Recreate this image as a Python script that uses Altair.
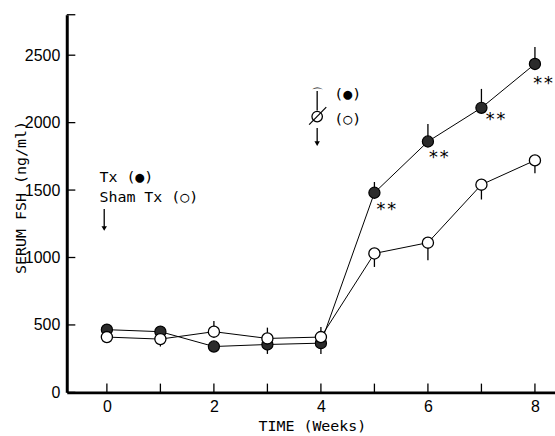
import altair as alt
import pandas as pd

# ---- data ----
weeks = [0, 1, 2, 3, 4, 5, 6, 7, 8]
tx_fsh = [465, 450, 340, 355, 365, 1480, 1860, 2110, 2435]
sham_fsh = [410, 395, 450, 400, 410, 1030, 1110, 1540, 1720]
# signed error-bar lengths (positive = drawn upward, negative = downward)
tx_err = [40, 35, 0, -70, -80, 80, 130, 140, 125]
sham_err = [-35, -55, 80, 80, 75, -100, -130, -110, -95]

x_tick_values = [0, 1, 2, 3, 4, 5, 6, 7, 8]
y_tick_values = [0, 500, 1000, 1500, 2000, 2500, 2800]

star_x = [5.02, 6.0, 7.06, 7.95]
star_y = [1385, 1770, 2050, 2315]

label_text = ["Tx (●)", "Sham Tx (○)", "(●)", "(○)"]
label_x = [-0.14, -0.14, 4.25, 4.25]
label_y = [1600, 1450, 2210, 2030]

XDOM = [-0.75, 8.375]
YDOM = [0, 2800]
MONO = "DejaVu Sans Mono"
SANS = "Liberation Sans"

pts = pd.DataFrame({
    "week": weeks * 2,
    "fsh": tx_fsh + sham_fsh,
    "err_end": [v + e for v, e in zip(tx_fsh, tx_err)] + [v + e for v, e in zip(sham_fsh, sham_err)],
    "group": ["Tx"] * len(weeks) + ["Sham"] * len(weeks),
})

xs = alt.Scale(domain=XDOM, nice=False, zero=False)
ys = alt.Scale(domain=YDOM, nice=False, zero=False)

x_axis = alt.Axis(values=x_tick_values, format="d", ticks=False, grid=False, domainWidth=3,
                  domainColor="black",
                  labelExpr="datum.value % 2 == 0 ? datum.label : ''", labelFont=SANS,
                  labelFontSize=16, labelColor="black", labelPadding=6,
                  title="TIME   (Weeks)", titleFont=MONO, titleFontSize=15, titleFontWeight="normal",
                  titleX=246, titleY=33, titleBaseline="middle", titleAlign="center")
y_axis = alt.Axis(values=[0, 500, 1000, 1500, 2000, 2500], format="d", ticks=False, grid=False,
                  domainWidth=3, domainColor="black", labelFont=SANS, labelFontSize=16,
                  labelColor="black", labelPadding=7, title="SERUM  FSH  (ng/ml)", titleFont=MONO,
                  titleFontSize=15, titleFontWeight="normal", titleX=-46, titleY=183, titleAngle=270,
                  titleAlign="center", titleBaseline="middle")

base = alt.Chart(pts)

lines = base.mark_line(color="black", strokeWidth=1).encode(
    x=alt.X("week:Q", scale=xs, axis=x_axis),
    y=alt.Y("fsh:Q", scale=ys, axis=y_axis),
    detail="group:N",
)

errs = base.transform_filter("datum.err_end != datum.fsh").mark_rule(color="black", strokeWidth=1.3).encode(
    x=alt.X("week:Q", scale=xs), y=alt.Y("fsh:Q", scale=ys), y2="err_end:Q"
)

tx_pts = base.transform_filter("datum.group == 'Tx'").mark_point(
    shape="circle", filled=True, size=125, fill="#2b2b2b", stroke="black", strokeWidth=1.2, opacity=1
).encode(x=alt.X("week:Q", scale=xs), y=alt.Y("fsh:Q", scale=ys))

sham_pts = base.transform_filter("datum.group == 'Sham'").mark_point(
    shape="circle", filled=True, size=125, fill="white", stroke="black", strokeWidth=1.3, opacity=1
).encode(x=alt.X("week:Q", scale=xs), y=alt.Y("fsh:Q", scale=ys))

# inward axis ticks
xt = alt.Chart(pd.DataFrame({"w": x_tick_values})).mark_rule(color="black", strokeWidth=1.3).encode(
    x=alt.X("w:Q", scale=xs), y=alt.datum(0, scale=ys), y2=alt.datum(65)
)
yt = alt.Chart(pd.DataFrame({"v": y_tick_values})).mark_rule(color="black", strokeWidth=1.3).encode(
    y=alt.Y("v:Q", scale=ys), x=alt.datum(XDOM[0], scale=xs), x2=alt.datum(XDOM[0] + 0.16)
)

stars = alt.Chart(pd.DataFrame({"x": star_x, "y": star_y, "t": ["**"] * 4})).mark_text(
    font=MONO, fontSize=18, color="black", align="left", baseline="middle", dy=4
).encode(x=alt.X("x:Q", scale=xs), y=alt.Y("y:Q", scale=ys), text="t:N")

labels = alt.Chart(pd.DataFrame({"x": label_x, "y": label_y, "t": label_text})).mark_text(
    font=MONO, fontSize=15, color="black", align="left", baseline="middle"
).encode(x=alt.X("x:Q", scale=xs), y=alt.Y("y:Q", scale=ys), text="t:N")

# arrows (Tx at week 0, castration at week 4)
arrow_df = pd.DataFrame({"x": [-0.05, 3.93], "y0": [1360, 1960], "y1": [1215, 1845]})
arrow_shaft = alt.Chart(arrow_df).mark_rule(color="black", strokeWidth=1.3).encode(
    x=alt.X("x:Q", scale=xs), y=alt.Y("y0:Q", scale=ys), y2="y1:Q"
)
arrow_head = alt.Chart(arrow_df).mark_point(
    shape="triangle-down", filled=True, size=30, color="black", opacity=1
).encode(x=alt.X("x:Q", scale=xs), y=alt.Y("y1:Q", scale=ys))

# castration symbol: slashed circle with stem and cap
sym_circle = alt.Chart(pd.DataFrame({"x": [3.93], "y": [2045]})).mark_point(
    shape="circle", size=110, stroke="black", strokeWidth=1.3, filled=False, opacity=1
).encode(x=alt.X("x:Q", scale=xs), y=alt.Y("y:Q", scale=ys))
slash = alt.Chart(pd.DataFrame({"x0": [3.78], "x1": [4.1], "y0": [1985], "y1": [2115]})).mark_rule(
    color="black", strokeWidth=1.2
).encode(x=alt.X("x0:Q", scale=xs), x2="x1:Q", y=alt.Y("y0:Q", scale=ys), y2="y1:Q")
stem = alt.Chart(pd.DataFrame({"x": [3.93], "y0": [2090], "y1": [2235]})).mark_rule(
    color="black", strokeWidth=1.3
).encode(x=alt.X("x:Q", scale=xs), y=alt.Y("y0:Q", scale=ys), y2="y1:Q")
cap = alt.Chart(pd.DataFrame({"x": [3.93], "y": [2235], "t": ["⌒"]})).mark_text(
    font="DejaVu Sans", fontSize=13, color="black", baseline="middle", align="center", dy=3
).encode(x=alt.X("x:Q", scale=xs), y=alt.Y("y:Q", scale=ys), text="t:N")

chart = alt.layer(
    lines, errs, xt, yt, tx_pts, sham_pts, stars, labels, arrow_shaft, arrow_head,
    sym_circle, slash, stem, cap
).properties(
    width=490, height=379, background="white",
    padding={"left": 67, "top": 14, "right": 0, "bottom": 43},
    autosize=alt.AutoSizeParams(type="none"),
).configure_view(stroke=None)

chart.save("out.html", embed_options={"renderer": "svg", "actions": False})
